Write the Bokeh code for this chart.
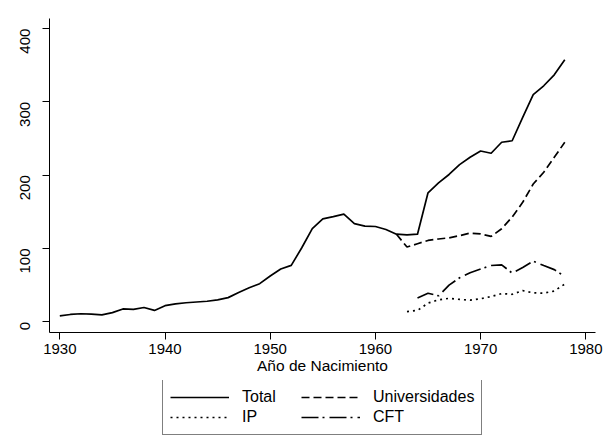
from bokeh.plotting import figure
from bokeh.models import Range1d, FixedTicker, Legend, LegendItem
from bokeh.layouts import column
from bokeh.embed import file_html
from bokeh.resources import INLINE
import math

# ---- data ----
years_total = list(range(1930, 1979))
total = [8, 10, 11, 10.5, 9.5, 12.5, 17.5, 17, 19.5, 15.5,
         22, 24.5, 26, 27, 28, 30, 33, 40, 46.5, 52,
         62.5, 72, 77, 101, 127, 140.5, 143.5, 147, 134, 130.5,
         130, 126, 119.5, 118.5, 119.5, 176, 189.5, 201, 214.5, 224.5,
         233, 230, 245, 247, 279, 310, 322, 337, 357.5]

years_univ = list(range(1962, 1979))
universidades = [119.5, 102, 106.5, 111, 113, 114.5, 117.5, 121, 120,
                 116.5, 127, 143, 163, 188, 204, 224.5, 245]

years_ip = list(range(1963, 1979))
ip = [14, 15.5, 25.5, 30, 32, 30.5, 29.5, 31.5, 34.5, 38.5, 37.5,
      42.5, 39.5, 39, 42, 51.5]

years_cft = list(range(1964, 1979))
cft = [32.5, 39, 35.5, 50, 60, 67, 72, 76.8, 77.7, 66.5, 74, 82.7,
       76.8, 71.2, 61.8]

x_ticks = [1930, 1940, 1950, 1960, 1970, 1980]
y_ticks = [0, 100, 200, 300, 400]
x_title = "Año de Nacimiento"
labels = ["Total", "Universidades", "IP", "CFT"]

FONT = "Liberation Sans"
LW = 1.7
STYLES = {"Total": "solid", "Universidades": "8 4", "IP": "2 4", "CFT": "17 4 2 5"}

p = figure(width=603, height=380, output_backend="svg", toolbar_location=None,
           x_range=Range1d(1929.02, 1980.92), y_range=Range1d(-14.6, 413.8),
           min_border_left=49, min_border_right=8, min_border_top=18,
           min_border_bottom=48)
p.outline_line_color = None
p.xgrid.visible = False
p.ygrid.visible = False
p.background_fill_color = "white"
p.border_fill_color = "white"

for ax in (p.xaxis[0], p.yaxis[0]):
    ax.major_label_text_font = FONT
    ax.major_label_text_font_size = "15px"
    ax.major_label_text_color = "black"
    ax.axis_line_color = "black"
    ax.axis_line_width = 1
    ax.major_tick_line_color = "black"
    ax.major_tick_out = 7
    ax.major_tick_in = 0
    ax.minor_tick_line_color = None

p.xaxis.ticker = FixedTicker(ticks=x_ticks)
p.yaxis.ticker = FixedTicker(ticks=y_ticks)
p.yaxis.major_label_orientation = math.pi / 2
p.yaxis.major_label_standoff = 17
p.xaxis.major_label_standoff = 4
p.xaxis.axis_label = x_title
p.xaxis.axis_label_text_font = FONT
p.xaxis.axis_label_text_font_size = "15.5px"
p.xaxis.axis_label_text_font_style = "normal"
p.xaxis.axis_label_text_color = "black"
p.xaxis.axis_label_standoff = 0

p.line(years_total, total, line_color="black", line_width=LW, line_join="round",
       line_dash=STYLES["Total"])
p.line(years_univ, universidades, line_color="black", line_width=LW,
       line_dash=STYLES["Universidades"])
p.line(years_ip, ip, line_color="black", line_width=LW, line_dash=STYLES["IP"])
p.line(years_cft, cft, line_color="black", line_width=LW, line_dash=STYLES["CFT"])

# legend lives in a second, axis-less figure directly below the chart
q = figure(width=603, height=66, output_backend="svg", toolbar_location=None,
           x_range=Range1d(0, 1), y_range=Range1d(0, 1),
           min_border_left=0, min_border_right=0, min_border_top=0,
           min_border_bottom=0)
q.axis.visible = False
q.xgrid.visible = False
q.ygrid.visible = False
q.outline_line_color = None
q.background_fill_color = "white"
q.border_fill_color = "white"

# off-screen stand-in lines, only used to draw the legend keys
key_x = [2, 3]
key_y = [2, 3]
key = {}
for lab in labels:
    key[lab] = q.line(key_x, key_y, line_color="black", line_width=LW,
                      line_dash=STYLES[lab])

# column-major order: first column Total/IP, second Universidades/CFT
order = [labels[0], labels[2], labels[1], labels[3]]
legend = Legend(items=[LegendItem(label=lab, renderers=[key[lab]]) for lab in order],
                ncols=2, location=(113, 11),
                label_text_font=FONT, label_text_font_size="16px",
                label_text_color="black",
                glyph_width=59, glyph_height=20, label_height=20, label_width=59,
                label_standoff=13, spacing=0, padding=7, margin=0,
                border_line_color="black", border_line_width=1,
                background_fill_color="white", background_fill_alpha=1)
q.add_layout(legend, "center")

page = column(p, q, spacing=0)
open("out.html", "w").write(file_html(page, INLINE))
